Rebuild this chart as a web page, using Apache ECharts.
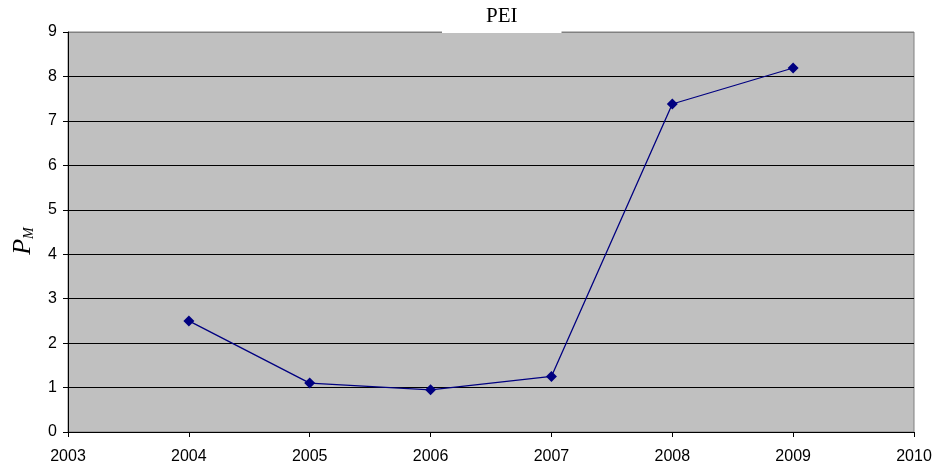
<!DOCTYPE html>
<html><head><meta charset="utf-8">
<script src="https://cdn.jsdelivr.net/npm/echarts@6/dist/echarts.min.js"></script>
<style>html,body{margin:0;padding:0;background:#fff}#c{width:937px;height:465px}</style>
</head><body><div id="c"></div>
<script>
var years = [2004, 2005, 2006, 2007, 2008, 2009];
var pmValues = [2.5, 1.1, 0.95, 1.25, 7.38, 8.19];
var xTicks = [2003, 2010];
var yTicks = [0, 9];

var chart = echarts.init(document.getElementById('c'));
var splitColors = ['#000','#000','#000','#000','#000','#000','#000','#000','#000','#808080'];
chart.setOption({
  animation: false,
  backgroundColor: '#fff',
  title: {
    text: 'PEI', left: 442, top: 0, z: 10,
    backgroundColor: '#fff',
    padding: [6, 44, 6, 44],
    textStyle: {fontFamily: '"Liberation Serif", "Times New Roman", serif', fontSize: 21, fontWeight: 'normal', color: '#000', lineHeight: 21}
  },
  grid: {left: 68, right: 23, top: 32, bottom: 33, show: true, backgroundColor: '#c0c0c0', borderColor: '#808080', borderWidth: 1},
  xAxis: {
    type: 'value', min: xTicks[0], max: xTicks[1], interval: 1,
    axisLine: {show: true, lineStyle: {color: '#000', width: 1}},
    axisTick: {show: true, length: 5, lineStyle: {color: '#000'}},
    splitLine: {show: false},
    axisLabel: {color: '#000', fontSize: 16, fontFamily: '"Liberation Sans", Arial, sans-serif', margin: 17,
      formatter: function (v) { return String(v); }}
  },
  yAxis: {
    type: 'value', min: yTicks[0], max: yTicks[1], interval: 1,
    name: '{p|P}{m|M}', nameLocation: 'middle', nameRotate: 90, nameGap: 30,
    nameTextStyle: {
      padding: [0, 18, 0, 0],
      rich: {
        p: {fontFamily: '"Liberation Serif", serif', fontStyle: 'italic', fontSize: 26, color: '#000', lineHeight: 30},
        m: {fontFamily: '"Liberation Serif", serif', fontStyle: 'italic', fontSize: 14, color: '#000', padding: [12, 0, 0, 0]}
      }
    },
    axisLine: {show: true, lineStyle: {color: '#000', width: 1}},
    axisTick: {show: true, length: 5, lineStyle: {color: '#000'}},
    splitLine: {show: true, lineStyle: {color: splitColors, width: 1}},
    axisLabel: {color: '#000', fontSize: 16, fontFamily: '"Liberation Sans", Arial, sans-serif', margin: 11}
  },
  series: [{
    type: 'line',
    data: years.map(function (y, i) { return [y, pmValues[i]]; }),
    symbol: 'diamond', symbolSize: 11,
    lineStyle: {color: '#000080', width: 1.3},
    itemStyle: {color: '#000080'}
  }]
});
</script></body></html>
